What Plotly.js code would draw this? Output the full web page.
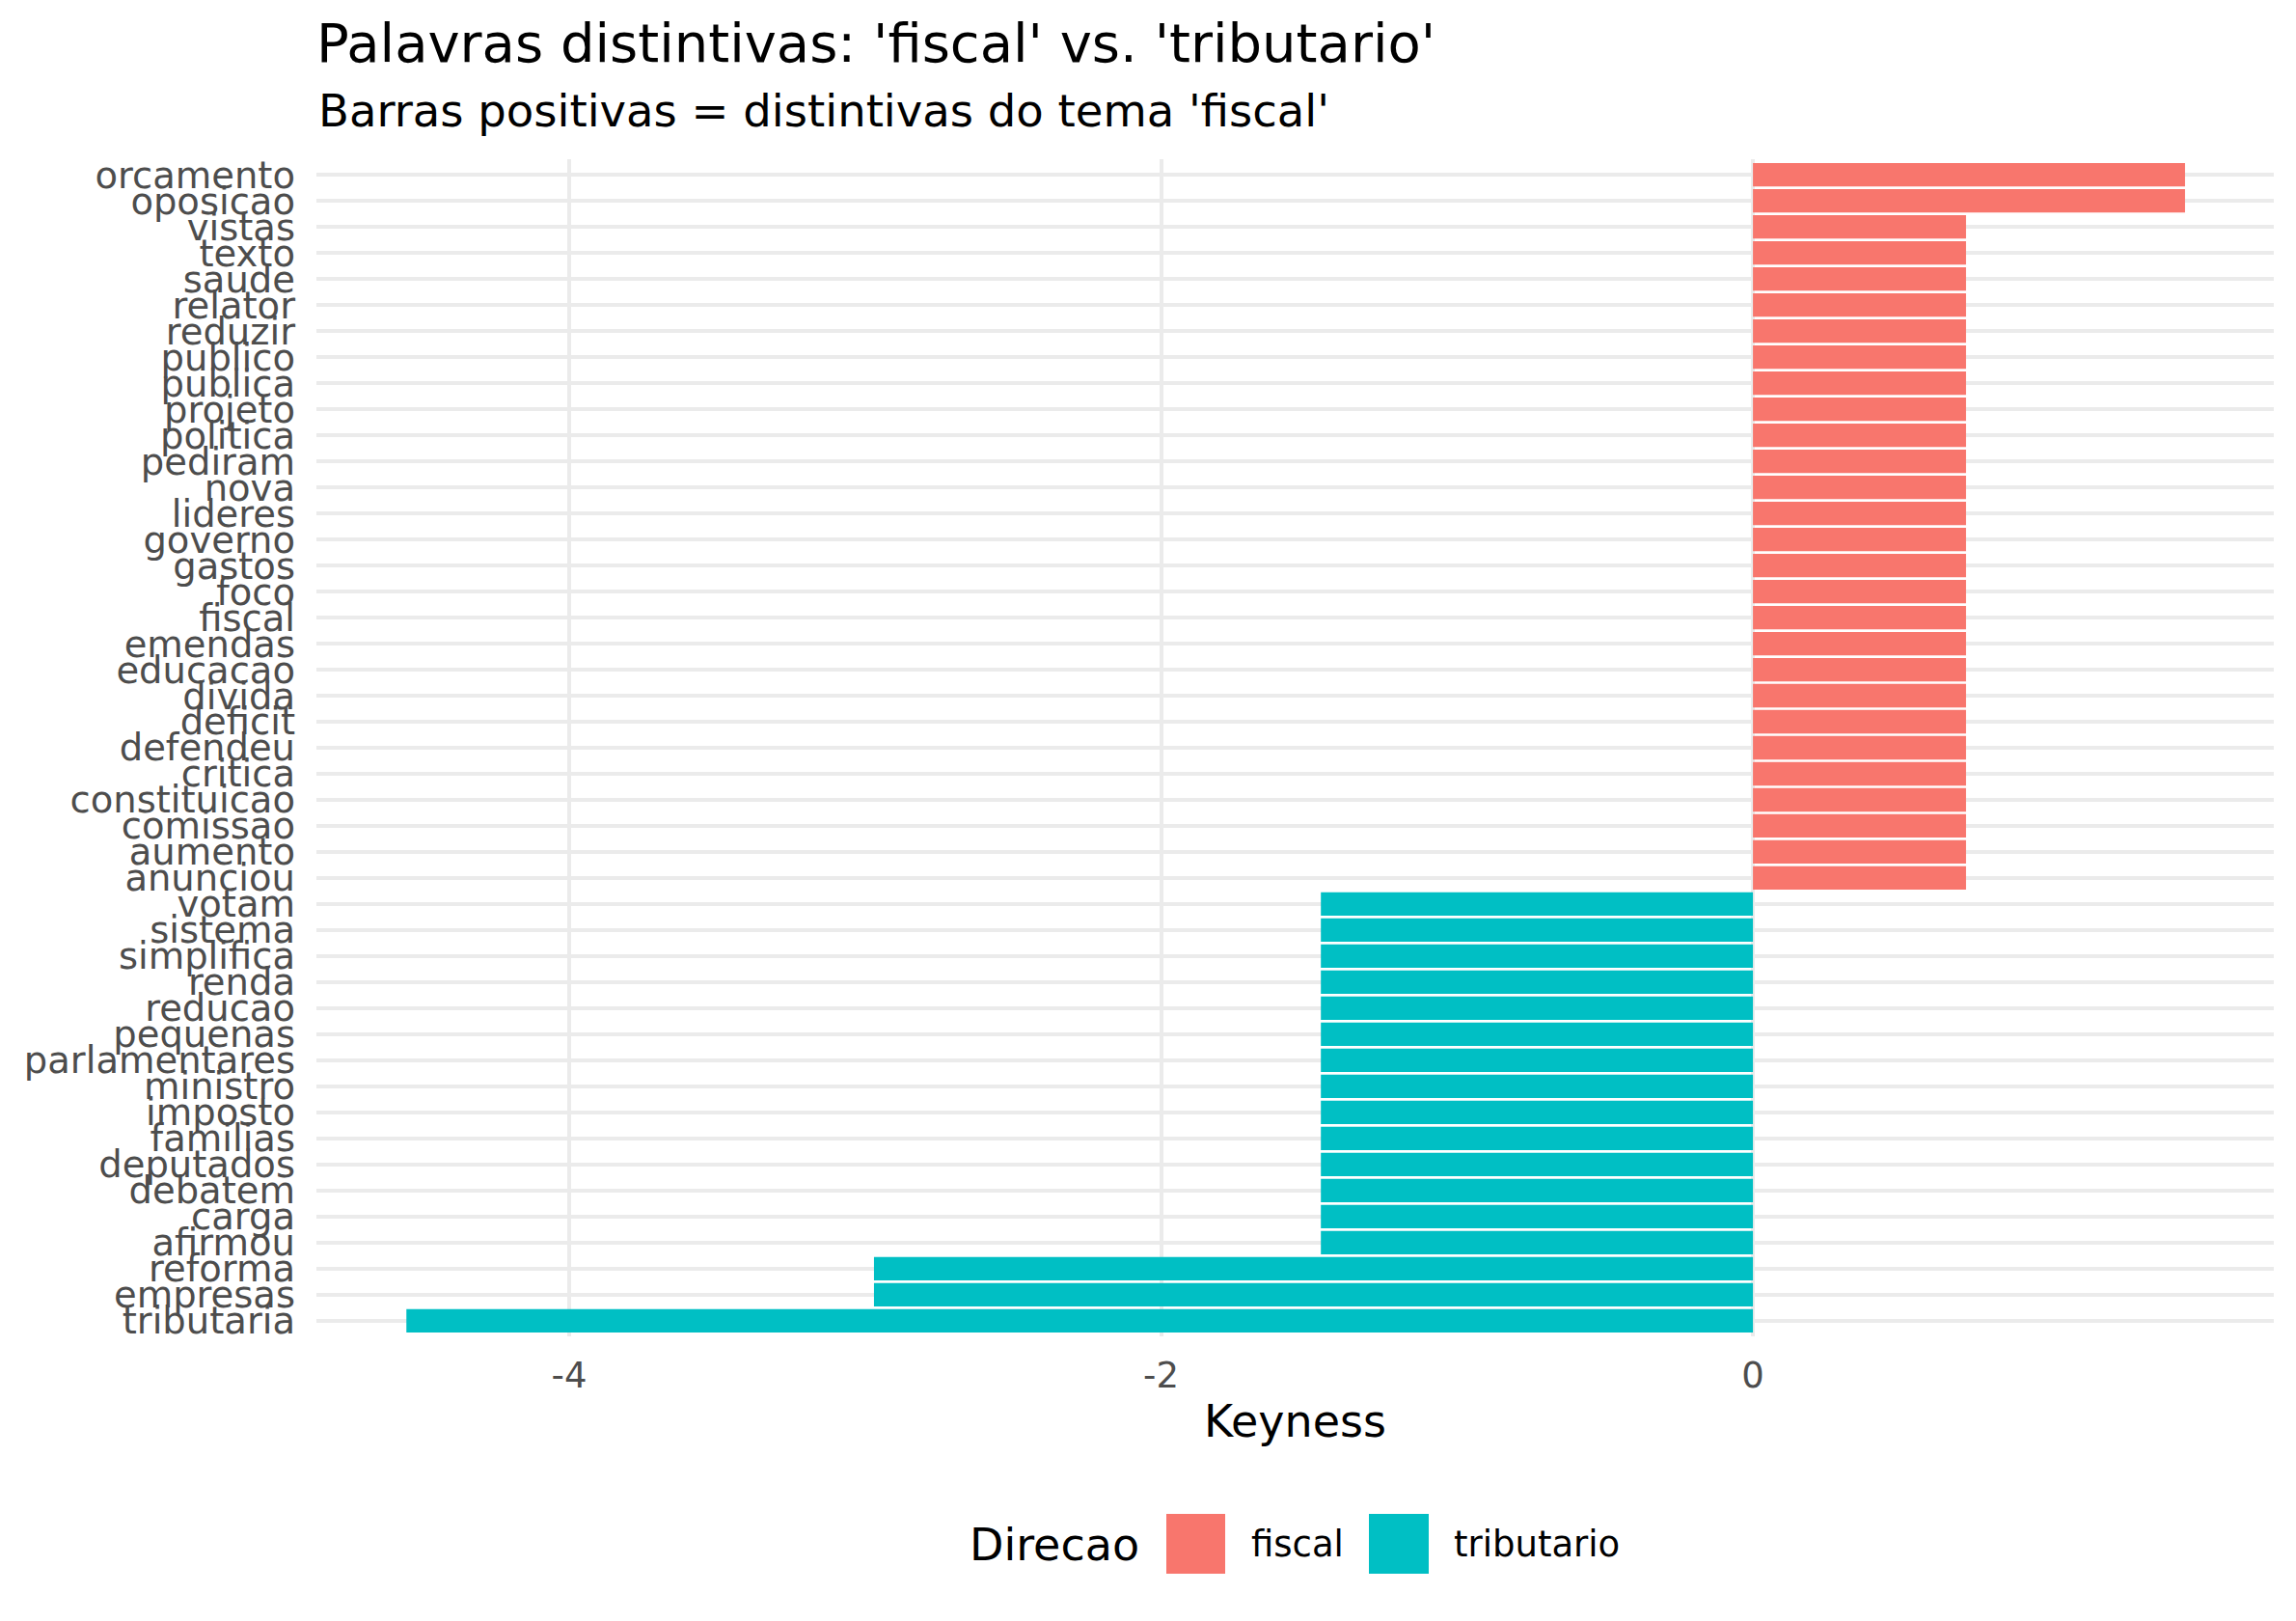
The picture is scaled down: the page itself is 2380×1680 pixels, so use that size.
<!DOCTYPE html>
<html>
<head>
<meta charset="utf-8">
<script src="https://cdn.plot.ly/plotly-3.0.1.min.js"></script>
<style>
  html, body { margin: 0; padding: 0; background: #fff; }
  #plot { width: 2380px; height: 1680px; }
</style>
</head>
<body>
<div id="plot"></div>
<script>
// words listed top to bottom, as in the chart
const fiscalWords = ['orcamento', 'oposicao', 'vistas', 'texto', 'saude', 'relator', 'reduzir',
  'publico', 'publica', 'projeto', 'politica', 'pediram', 'nova', 'lideres', 'governo', 'gastos',
  'foco', 'fiscal', 'emendas', 'educacao', 'divida', 'deficit', 'defendeu', 'critica',
  'constituicao', 'comissao', 'aumento', 'anunciou'];
const fiscalKeyness = [1.46, 1.46, 0.72, 0.72, 0.72, 0.72, 0.72,
  0.72, 0.72, 0.72, 0.72, 0.72, 0.72, 0.72, 0.72, 0.72,
  0.72, 0.72, 0.72, 0.72, 0.72, 0.72, 0.72, 0.72,
  0.72, 0.72, 0.72, 0.72];

const tribWords = ['votam', 'sistema', 'simplifica', 'renda', 'reducao', 'pequenas',
  'parlamentares', 'ministro', 'imposto', 'familias', 'deputados', 'debatem', 'carga',
  'afirmou', 'reforma', 'empresas', 'tributaria'];
const tribKeyness = [-1.46, -1.46, -1.46, -1.46, -1.46, -1.46,
  -1.46, -1.46, -1.46, -1.46, -1.46, -1.46, -1.46,
  -1.46, -2.97, -2.97, -4.55];

const xTicks = [-4, -2, 0];
const xTickLabels = ['-4', '-2', '0'];

const COLORS = { fiscal: '#F8766D', tributario: '#00BFC4' };
const FONT = 'DejaVu Sans';

// plotly draws the first category at the bottom
const categoryOrder = fiscalWords.concat(tribWords).reverse();

// panel box in page pixels, used for the hand-drawn legend and labels
const W = 2380, H = 1680;
const M = { l: 328, r: 23, t: 165, b: 295 };
const px = (x) => (x - M.l) / (W - M.l - M.r);
const py = (y) => (H - M.b - y) / (H - M.t - M.b);

const traces = [
  {
    type: 'bar', orientation: 'h', name: 'fiscal',
    x: fiscalKeyness, y: fiscalWords,
    width: 0.9,
    marker: { color: COLORS.fiscal, line: { width: 0 } },
    hoverinfo: 'skip',
  },
  {
    type: 'bar', orientation: 'h', name: 'tributario',
    x: tribKeyness, y: tribWords,
    width: 0.9,
    marker: { color: COLORS.tributario, line: { width: 0 } },
    hoverinfo: 'skip',
  },
];

const layout = {
  width: W,
  height: H,
  margin: M,
  paper_bgcolor: '#fff',
  plot_bgcolor: '#fff',
  font: { family: FONT, color: '#000' },
  barmode: 'overlay',
  showlegend: false,
  title: {
    text: "Palavras distintivas: 'fiscal' vs. 'tributario'",
    font: { family: FONT, size: 56, color: '#000' },
    xref: 'paper', x: 0, xanchor: 'left',
    yref: 'container', y: 1 - 44 / H, yanchor: 'middle',
  },
  xaxis: {
    range: [-4.854, 1.76],
    tickvals: xTicks,
    ticktext: xTickLabels,
    ticks: '',
    ticklabelstandoff: 15,
    tickfont: { family: FONT, size: 37, color: '#4D4D4D' },
    showgrid: true,
    gridcolor: '#EBEBEB',
    gridwidth: 4,
    zeroline: false,
    showline: false,
    automargin: false,
    title: {
      text: 'Keyness',
      font: { family: FONT, size: 46, color: '#000' },
      standoff: 10,
    },
  },
  yaxis: {
    type: 'category',
    categoryorder: 'array',
    categoryarray: categoryOrder,
    range: [-0.6, categoryOrder.length - 0.4],
    tickmode: 'array',
    tickvals: categoryOrder,
    ticktext: categoryOrder,
    ticks: '',
    ticklabelstandoff: 21,
    tickfont: { family: FONT, size: 38.5, color: '#4D4D4D' },
    showgrid: true,
    gridcolor: '#EBEBEB',
    gridwidth: 4,
    zeroline: false,
    showline: false,
    automargin: false,
  },
  annotations: [
    {
      text: "Barras positivas = distintivas do tema 'fiscal'",
      xref: 'paper', yref: 'paper', x: 0, y: py(115),
      xanchor: 'left', yanchor: 'middle', showarrow: false,
      font: { family: FONT, size: 46.5, color: '#000' },
    },
    {
      text: 'Direcao',
      xref: 'paper', yref: 'paper', x: px(1003), y: py(1601),
      xanchor: 'left', yanchor: 'middle', showarrow: false,
      font: { family: FONT, size: 46, color: '#000' },
    },
    {
      text: 'fiscal',
      xref: 'paper', yref: 'paper', x: px(1295), y: py(1600),
      xanchor: 'left', yanchor: 'middle', showarrow: false,
      font: { family: FONT, size: 37, color: '#000' },
    },
    {
      text: 'tributario',
      xref: 'paper', yref: 'paper', x: px(1505), y: py(1600),
      xanchor: 'left', yanchor: 'middle', showarrow: false,
      font: { family: FONT, size: 37, color: '#000' },
    },
  ],
  shapes: [
    {
      type: 'rect', xref: 'paper', yref: 'paper',
      x0: px(1209), x1: px(1270), y0: py(1631), y1: py(1569),
      fillcolor: COLORS.fiscal, line: { width: 0 },
    },
    {
      type: 'rect', xref: 'paper', yref: 'paper',
      x0: px(1419), x1: px(1481), y0: py(1631), y1: py(1569),
      fillcolor: COLORS.tributario, line: { width: 0 },
    },
  ],
};

const config = { staticPlot: true, displayModeBar: false };

Plotly.newPlot('plot', traces, layout, config);
</script>
</body>
</html>
